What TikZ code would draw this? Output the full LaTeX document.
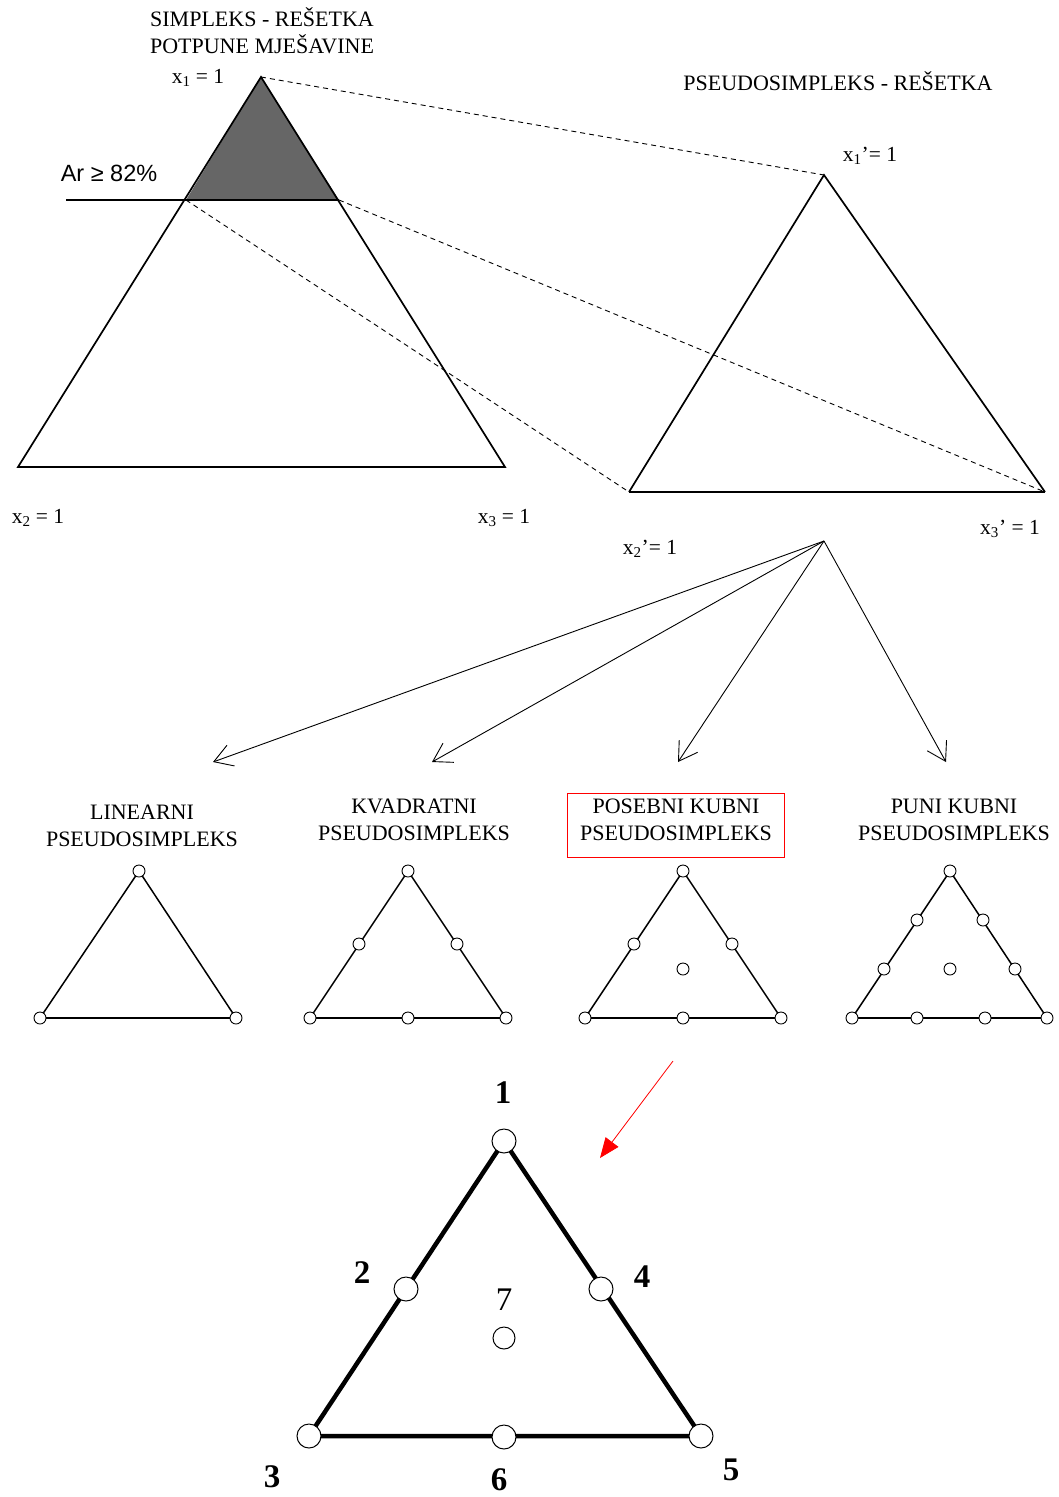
\documentclass[tikz,border=0pt]{standalone}
\usepackage{fontspec}
\setmainfont{Liberation Serif}
\newfontfamily\arialfont{Liberation Sans}
\usetikzlibrary{arrows.meta}
\begin{document}
\begin{tikzpicture}[x=1pt,y=-1pt,
  lbl/.style={inner sep=0pt,font=\fontsize{21.5}{25}\selectfont},
  ttl/.style={inner sep=0pt,align=center,font=\fontsize{22}{27}\selectfont},
  big/.style={line width=1.7pt},
  dsh/.style={line width=0.9pt,dash pattern=on 5pt off 4pt},
  arr/.style={line width=0.9pt,-{Straight Barb[length=18pt,width=22pt,line width=0.9pt]}},
  pt/.style={circle,draw,fill=white,inner sep=0pt,minimum size=12pt,line width=0.9pt},
  bpt/.style={circle,draw,fill=white,inner sep=0pt,minimum size=24pt,line width=1pt},
  small/.style={line width=1.5pt},
  num/.style={inner sep=0pt,font=\fontsize{33}{36}\selectfont\bfseries}]
\useasboundingbox (0,0) rectangle (1058,1497);
\fill[white] (0,0) rectangle (1058,1497);

% ---------- left simplex ----------
\coordinate (A1) at (261,77);
\coordinate (A2) at (18,467);
\coordinate (A3) at (505,467);
\coordinate (AL) at (186,200);
\coordinate (AR) at (339,200);
\coordinate (AH) at (66,200);
\fill[black!60] (A1) -- (AL) -- (AR) -- cycle;
\draw[big] (A1) -- (A2) -- (A3) -- cycle;
\draw[line width=1.2pt] (AH) -- (AR);

% ---------- right pseudosimplex ----------
\coordinate (B1) at (824,175);
\coordinate (B2) at (629,492);
\coordinate (B3) at (1045,492);
\draw[big] (B2) -- (B1) -- (B3);
\draw[line width=2.6pt] (B2) -- (B3);

\draw[dsh] (A1) -- (B1);
\draw[dsh] (AL) -- (B2);
\draw[dsh] (AR) -- (B3);

% ---------- labels top ----------
\node[ttl] (t1) at (262,31) {SIMPLEKS - REŠETKA\\POTPUNE MJEŠAVINE};
\node[ttl] (t2) at (838,81) {PSEUDOSIMPLEKS - REŠETKA};
\node[lbl] (lx1) at (198,78) {x\textsubscript{1} = 1};
\node[inner sep=0pt,font=\arialfont\fontsize{23.5}{27}\selectfont] (ar) at (109,173) {Ar ≥ 82\%};
\node[lbl] (lx1p) at (870,156) {x\textsubscript{1}'= 1};
\node[lbl] (lx2) at (38,518) {x\textsubscript{2} = 1};
\node[lbl] (lx3) at (504,518) {x\textsubscript{3} = 1};
\node[lbl] (lx2p) at (650,549) {x\textsubscript{2}'= 1};
\node[lbl] (lx3p) at (1010,529) {x\textsubscript{3}' = 1};

% ---------- arrows ----------
\coordinate (S) at (824,541);
\coordinate (E1) at (213,762);
\coordinate (E2) at (432,762);
\coordinate (E3) at (678,762);
\coordinate (E4) at (946,762);
\draw[arr] (S) -- (E1);
\draw[arr] (S) -- (E2);
\draw[arr] (S) -- (E3);
\draw[arr] (S) -- (E4);

% ---------- titles of four ----------
\node[ttl] (n1) at (142,826) {LINEARNI\\PSEUDOSIMPLEKS};
\node[ttl] (n2) at (414,820) {KVADRATNI\\PSEUDOSIMPLEKS};
\node[ttl] (n3) at (676,820) {POSEBNI KUBNI\\PSEUDOSIMPLEKS};
\node[ttl] (n4) at (954,820) {PUNI KUBNI\\PSEUDOSIMPLEKS};
\draw[red,line width=1pt] (567,793) rectangle (784,857);

% ---------- linear ----------
\draw[small] (139,871) -- (40,1018);
\draw[small] (139,871) -- (236,1018);
\draw[line width=2.6pt] (40,1018) -- (236,1018);
\node[pt] (l1) at (139,871) {};
\node[pt] (l2) at (40,1018) {};
\node[pt] (l3) at (236,1018) {};

% ---------- quadratic ----------
\draw[small] (408,871) -- (310,1018);
\draw[small] (408,871) -- (506,1018);
\draw[line width=2.6pt] (310,1018) -- (506,1018);
\foreach \p/\q [count=\i] in {408/871,310/1018,506/1018,359/944,457/944,408/1018}
  \node[pt] (q\i) at (\p,\q) {};

% ---------- special cubic ----------
\draw[small] (683,871) -- (585,1018);
\draw[small] (683,871) -- (781,1018);
\draw[line width=2.6pt] (585,1018) -- (781,1018);
\foreach \p/\q [count=\i] in {683/871,585/1018,781/1018,634/944,732/944,683/1018,683/969}
  \node[pt] (s\i) at (\p,\q) {};

% ---------- full cubic ----------
\draw[small] (950,871) -- (852,1018);
\draw[small] (950,871) -- (1047,1018);
\draw[line width=2.6pt] (852,1018) -- (1047,1018);
\foreach \p/\q [count=\i] in {950/871,852/1018,1047/1018,917/920,884/969,983/920,1015/969,917/1018,985/1018,950/969}
  \node[pt] (f\i) at (\p,\q) {};

% ---------- red arrow ----------
\coordinate (R1) at (673,1061);
\coordinate (R2) at (600,1158);
\draw[red,line width=0.8pt,-{Triangle[length=20pt,width=16pt]}] (R1) -- (R2);

% ---------- big triangle ----------
\coordinate (P1) at (504,1141);
\coordinate (P3) at (309,1436);
\coordinate (P5) at (701,1436);
\draw[line width=4.5pt] (P1) -- (P3) -- (P5) -- cycle;
\node[bpt] (c1) at (P1) {};
\node[bpt] (c2) at (406,1289) {};
\node[bpt] (c4) at (601,1289) {};
\node[bpt] (c3) at (P3) {};
\node[bpt] (c5) at (P5) {};
\node[bpt] (c6) at (504,1437) {};
\node[circle,draw,fill=white,inner sep=0pt,minimum size=22pt,line width=1pt] (c7) at (504,1338) {};
\node[num] (m1) at (503,1093) {1};
\node[num] (m2) at (362,1273) {2};
\node[num] (m4) at (642,1277) {4};
\node[inner sep=0pt,font=\fontsize{33}{36}\selectfont] (m7) at (504,1300) {7};
\node[num] (m3) at (272,1477) {3};
\node[num] (m6) at (499,1480) {6};
\node[num] (m5) at (731,1470) {5};
\end{tikzpicture}
\end{document}
